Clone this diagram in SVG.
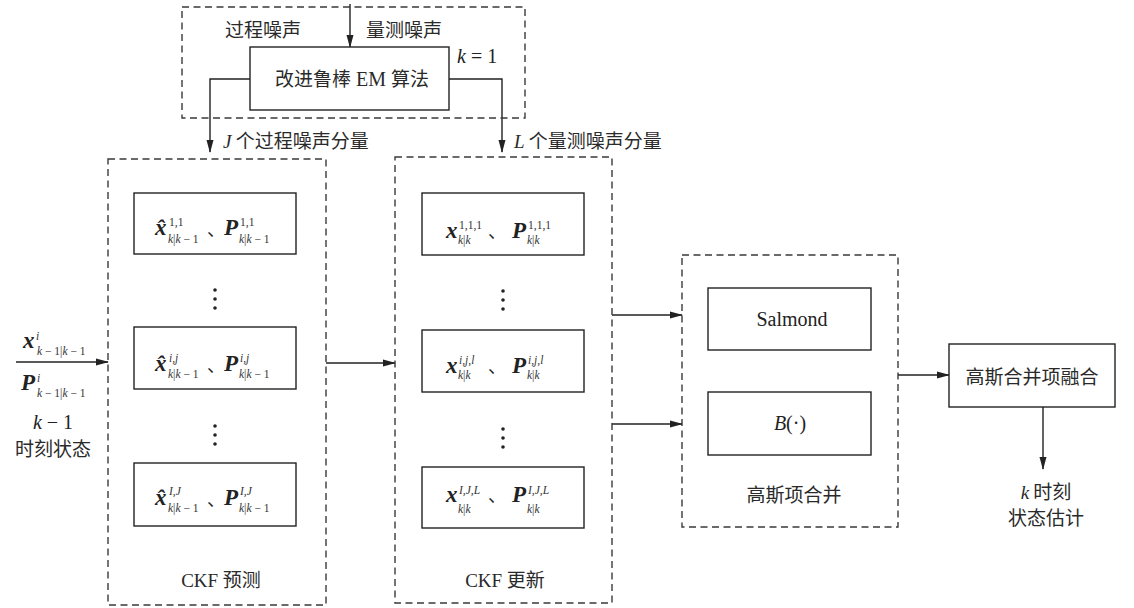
<svg xmlns="http://www.w3.org/2000/svg" width="1134" height="608" viewBox="0 0 1134 608">
<style>
.dash{fill:none;stroke:#3a3a3a;stroke-width:1.4;stroke-dasharray:7,4.5}
.box{fill:#fff;stroke:#222;stroke-width:1.4}
.ln{fill:none;stroke:#222;stroke-width:1.4}
.t{font-family:"Liberation Serif",serif;font-size:20px;fill:#222}
.cj{font-family:"Noto Sans CJK SC","Liberation Serif",sans-serif;font-size:19px;fill:#2a2a2a}
.lat{font-family:"Liberation Serif",serif}
.m{font-family:"Liberation Serif",serif;font-size:23px;font-weight:bold;font-style:italic;fill:#222}
.s{font-family:"Liberation Serif",serif;font-size:11.5px;font-style:italic;fill:#333}
.n{font-style:normal}
.dot{fill:#222}
.mi{font-family:"Liberation Serif",serif;font-style:italic;font-size:20px;fill:#222}
.dun{font-family:"Noto Sans CJK SC",sans-serif;font-size:18px;fill:#222}
</style>
<defs>
<marker id="ah" markerWidth="13" markerHeight="8" refX="12" refY="4" orient="auto" markerUnits="userSpaceOnUse">
<path d="M0,0.5 L13,4 L0,7.5 Z" fill="#222"/>
</marker>
</defs>

<g id="connectors">
<line class="ln" x1="350" y1="4" x2="350" y2="47" marker-end="url(#ah)"/>
<polyline class="ln" points="250,79 210,79 210,152" marker-end="url(#ah)"/>
<polyline class="ln" points="449,79 502,79 502,152" marker-end="url(#ah)"/>
<line class="ln" x1="16" y1="362" x2="108" y2="362" marker-end="url(#ah)"/>
<line class="ln" x1="326" y1="363" x2="395" y2="363" marker-end="url(#ah)"/>
<line class="ln" x1="612" y1="315" x2="682" y2="315" marker-end="url(#ah)"/>
<line class="ln" x1="612" y1="424" x2="682" y2="424" marker-end="url(#ah)"/>
<line class="ln" x1="898" y1="375" x2="949" y2="375" marker-end="url(#ah)"/>
<line class="ln" x1="1043" y1="407" x2="1043" y2="469" marker-end="url(#ah)"/>
</g>

<g id="em-group">
<rect class="dash" x="182" y="7" width="343" height="111"/>
<text class="cj" x="225" y="37">过程噪声</text>
<text class="cj" x="366" y="37">量测噪声</text>
<text class="mi" x="457" y="63">k<tspan class="n"> = 1</tspan></text>
</g>
<g id="em">
<rect class="box" x="250" y="47" width="199" height="63"/>
<text class="cj" x="352" y="86" text-anchor="middle">改进鲁棒<tspan style="font-family:'Liberation Serif',serif;font-size:20px"> EM </tspan>算法</text>
</g>
<g id="label-J"><text class="cj" x="223" y="148"><tspan style="font-family:'Liberation Serif',serif;font-style:italic">J</tspan> 个过程噪声分量</text></g>
<g id="label-L"><text class="cj" x="514" y="148"><tspan style="font-family:'Liberation Serif',serif;font-style:italic">L</tspan> 个量测噪声分量</text></g>

<g id="input">
<text class="m" x="23" y="348">x</text>
<text class="s" x="36" y="340">i</text>
<text class="s" x="37" y="355">k <tspan class="n">− 1|</tspan>k<tspan class="n"> − 1</tspan></text>
<text class="m" x="21" y="390">P</text>
<text class="s" x="37" y="382">i</text>
<text class="s" x="37" y="397">k <tspan class="n">− 1|</tspan>k<tspan class="n"> − 1</tspan></text>
<text class="mi" x="53" y="429" text-anchor="middle">k<tspan class="n"> − 1</tspan></text>
<text class="cj" x="53" y="456" text-anchor="middle">时刻状态</text>
</g>

<g id="ckf-predict">
<rect class="dash" x="108" y="159" width="218" height="446"/>
<text class="cj" x="221" y="587" text-anchor="middle"><tspan style="font-family:'Liberation Serif',serif;font-size:19px">CKF </tspan>预测</text>
<circle class="dot" cx="215" cy="290" r="1.8"/><circle class="dot" cx="215" cy="299" r="1.8"/><circle class="dot" cx="215" cy="308" r="1.8"/>
<circle class="dot" cx="215" cy="426" r="1.8"/><circle class="dot" cx="215" cy="435" r="1.8"/><circle class="dot" cx="215" cy="444" r="1.8"/>
</g>
<g id="p1">
<rect class="box" x="134" y="193" width="162" height="61"/>
<text class="m" x="155" y="235">x̂</text>
<text class="s" x="169" y="226"><tspan class="n">1,1</tspan></text>
<text class="s" x="168" y="243">k<tspan class="n">|</tspan>k<tspan class="n"> − 1</tspan></text>
<text class="dun" x="207" y="236">、</text>
<text class="m" x="224" y="235">P</text>
<text class="s" x="240" y="226"><tspan class="n">1,1</tspan></text>
<text class="s" x="239" y="243">k<tspan class="n">|</tspan>k<tspan class="n"> − 1</tspan></text>
</g>
<g id="p2">
<rect class="box" x="134" y="327" width="162" height="62"/>
<text class="m" x="155" y="371">x̂</text>
<text class="s" x="169" y="362">i,j</text>
<text class="s" x="168" y="378">k<tspan class="n">|</tspan>k<tspan class="n"> − 1</tspan></text>
<text class="dun" x="207" y="372">、</text>
<text class="m" x="224" y="371">P</text>
<text class="s" x="240" y="362">i,j</text>
<text class="s" x="239" y="378">k<tspan class="n">|</tspan>k<tspan class="n"> − 1</tspan></text>
</g>
<g id="p3">
<rect class="box" x="134" y="463" width="162" height="63"/>
<text class="m" x="155" y="505">x̂</text>
<text class="s" x="169" y="495">I,J</text>
<text class="s" x="168" y="512">k<tspan class="n">|</tspan>k<tspan class="n"> − 1</tspan></text>
<text class="dun" x="207" y="506">、</text>
<text class="m" x="224" y="505">P</text>
<text class="s" x="240" y="495">I,J</text>
<text class="s" x="239" y="512">k<tspan class="n">|</tspan>k<tspan class="n"> − 1</tspan></text>
</g>

<g id="ckf-update">
<rect class="dash" x="395" y="157" width="217" height="446"/>
<text class="cj" x="505" y="587" text-anchor="middle"><tspan style="font-family:'Liberation Serif',serif;font-size:19px">CKF </tspan>更新</text>
<circle class="dot" cx="503" cy="291" r="1.8"/><circle class="dot" cx="503" cy="300" r="1.8"/><circle class="dot" cx="503" cy="309" r="1.8"/>
<circle class="dot" cx="503" cy="429" r="1.8"/><circle class="dot" cx="503" cy="438" r="1.8"/><circle class="dot" cx="503" cy="447" r="1.8"/>
</g>
<g id="u1">
<rect class="box" x="422" y="193" width="162" height="62"/>
<text class="m" x="446" y="238">x</text>
<text class="s" x="459" y="229"><tspan class="n">1,1,1</tspan></text>
<text class="s" x="458" y="244">k<tspan class="n">|</tspan>k</text>
<text class="dun" x="488" y="238">、</text>
<text class="m" x="512" y="238">P</text>
<text class="s" x="528" y="229"><tspan class="n">1,1,1</tspan></text>
<text class="s" x="527" y="244">k<tspan class="n">|</tspan>k</text>
</g>
<g id="u2">
<rect class="box" x="422" y="330" width="162" height="62"/>
<text class="m" x="446" y="373">x</text>
<text class="s" x="459" y="364">i,j,l</text>
<text class="s" x="458" y="379">k<tspan class="n">|</tspan>k</text>
<text class="dun" x="488" y="373">、</text>
<text class="m" x="512" y="373">P</text>
<text class="s" x="528" y="364">i,j,l</text>
<text class="s" x="527" y="379">k<tspan class="n">|</tspan>k</text>
</g>
<g id="u3">
<rect class="box" x="422" y="467" width="162" height="61"/>
<text class="m" x="446" y="502">x</text>
<text class="s" x="459" y="494">I,J,L</text>
<text class="s" x="458" y="513">k<tspan class="n">|</tspan>k</text>
<text class="dun" x="488" y="502">、</text>
<text class="m" x="512" y="502">P</text>
<text class="s" x="528" y="494">I,J,L</text>
<text class="s" x="527" y="513">k<tspan class="n">|</tspan>k</text>
</g>

<g id="merge">
<rect class="dash" x="682" y="255" width="216" height="272"/>
<text class="cj" x="794" y="502" text-anchor="middle">高斯项合并</text>
</g>
<g id="salmond">
<rect class="box" x="708" y="288" width="163" height="62"/>
<text class="t" x="792" y="326" text-anchor="middle">Salmond</text>
</g>
<g id="bfun">
<rect class="box" x="708" y="392" width="163" height="63"/>
<text class="mi" x="790" y="430" text-anchor="middle">B<tspan class="n">(·)</tspan></text>
</g>
<g id="fusion">
<rect class="box" x="949" y="344" width="166" height="63"/>
<text class="cj" x="1032" y="384" text-anchor="middle">高斯合并项融合</text>
</g>
<g id="output">
<text class="cj" x="1046" y="499" text-anchor="middle"><tspan style="font-family:'Liberation Serif',serif;font-style:italic">k</tspan> 时刻</text>
<text class="cj" x="1046" y="525" text-anchor="middle">状态估计</text>
</g>
</svg>
